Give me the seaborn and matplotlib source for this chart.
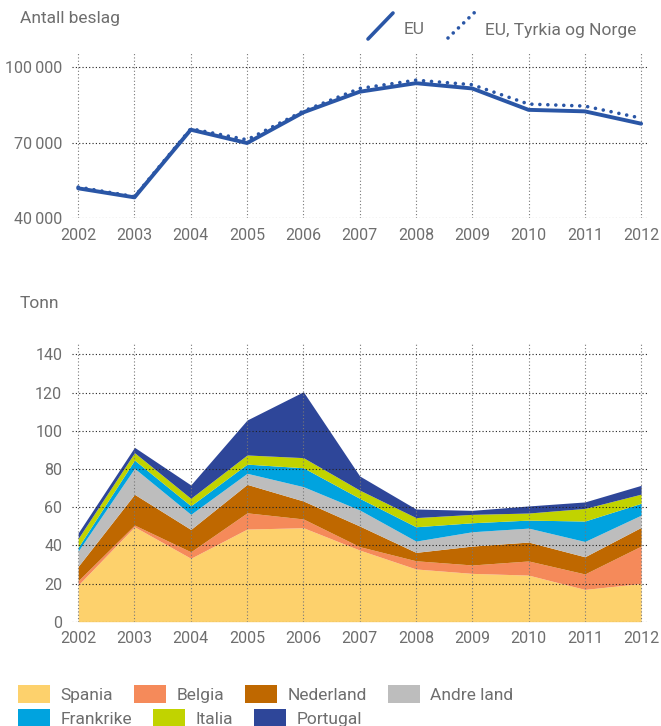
import numpy as np
import pandas as pd
import matplotlib
matplotlib.use("Agg")
import matplotlib.pyplot as plt
import seaborn as sns
from matplotlib.lines import Line2D
from matplotlib.patches import Patch
from matplotlib.ticker import FuncFormatter

# --- data ---
years = [2002, 2003, 2004, 2005, 2006, 2007, 2008, 2009, 2010, 2011, 2012]

# antall beslag
eu = [51800, 48200, 75100, 69800, 82000, 90200, 93600, 91500, 83000, 82400, 77500]
eu_tr_no = [52300, 48500, 75500, 71100, 82500, 91500, 94800, 93000, 85300, 84500, 79700]

# tonn per land (stacked)
countries = ["Spania", "Belgia", "Nederland", "Andre land", "Frankrike", "Italia", "Portugal"]
spania = [19.2, 49.7, 33.2, 48.5, 49.2, 37.5, 27.6, 25.3, 24.4, 16.9, 20.0]
belgia = [2.3, 0.9, 3.4, 8.5, 4.6, 1.8, 4.3, 4.4, 7.4, 8.1, 19.6]
nederland = [7.5, 16.1, 11.7, 14.9, 9.4, 10.8, 4.4, 9.9, 9.9, 9.0, 9.8]
andre_land = [8.0, 13.6, 7.9, 5.8, 7.5, 8.4, 5.9, 7.5, 7.3, 8.0, 6.4]
frankrike = [2.0, 4.3, 4.5, 4.8, 9.9, 6.1, 7.5, 4.7, 4.2, 10.7, 6.2]
italia = [4.6, 3.9, 3.9, 4.8, 5.3, 4.3, 4.8, 4.4, 3.7, 6.6, 4.8]
portugal = [2.9, 2.8, 7.0, 18.3, 34.5, 7.4, 4.5, 2.1, 3.7, 3.4, 4.6]

colors = ["#FDD16C", "#F58A5A", "#BF6800", "#BDBDBD", "#00A3DF", "#C1D300", "#2E4699"]
line_color = "#2A56A6"
text_color = "#6E6E6E"

sns.set_theme(style="white")
plt.rcParams["font.family"] = ["Roboto", "DejaVu Sans"]
plt.rcParams["text.color"] = text_color
plt.rcParams["xtick.color"] = text_color
plt.rcParams["ytick.color"] = text_color

fig = plt.figure(figsize=(6.61, 7.26), dpi=100)
W, H = 661, 726

def style_axes(ax):
    for s in ax.spines.values():
        s.set_visible(False)
    ax.set_xlim(2001.89, 2012.14)
    ax.set_xticks(years)
    ax.tick_params(axis="both", length=0, labelsize=11.5, pad=7)
    ax.grid(axis="y", color="#222222", linestyle=(0, (1, 2)), linewidth=0.8)
    ax.grid(axis="x", color="#777777", linestyle=(0, (1, 2)), linewidth=0.8)
    ax.set_axisbelow(False)
    ax.set_xlabel("")
    ax.set_ylabel("")

# ---------- top: antall beslag ----------
ax1 = fig.add_axes([72 / W, 1 - 218 / H, 577 / W, 165 / H])
df_top = pd.DataFrame({"year": years, "EU": eu, "EU, Tyrkia og Norge": eu_tr_no})
sns.lineplot(data=df_top, x="year", y="EU", ax=ax1, color=line_color, linewidth=2.8,
             solid_capstyle="round", zorder=3)
sns.lineplot(data=df_top, x="year", y="EU, Tyrkia og Norge", ax=ax1, color=line_color,
             linewidth=2.6, linestyle=(0, (0.01, 2.2)), dash_capstyle="round", zorder=4)
style_axes(ax1)
ax1.set_ylim(40000, 105600)
ax1.set_yticks([40000, 70000, 100000])
ax1.yaxis.set_major_formatter(FuncFormatter(lambda v, p: f"{int(v):,}".replace(",", "\u2009")))

fig.text(20 / W, 1 - 19 / H, "Antall beslag", fontsize=12.5, va="center", ha="left")

# header legend with diagonal line symbols
fig.add_artist(Line2D([368 / W, 393 / W], [1 - 39 / H, 1 - 13 / H], color=line_color,
                      linewidth=2.6, solid_capstyle="round"))
fig.add_artist(Line2D([448 / W, 475 / W], [1 - 38 / H, 1 - 12 / H], color=line_color,
                      linewidth=2.6, linestyle=(0, (0.01, 2.0)), dash_capstyle="round"))
fig.text(404 / W, 1 - 30 / H, "EU", fontsize=12.5, va="center", ha="left")
fig.text(485 / W, 1 - 30 / H, "EU, Tyrkia og Norge", fontsize=12.5, va="center", ha="left")

# ---------- bottom: tonn ----------
ax2 = fig.add_axes([72 / W, 1 - 621.7 / H, 577 / W, 280 / H])
series = [spania, belgia, nederland, andre_land, frankrike, italia, portugal]
ax2.stackplot(years, *series, colors=colors, labels=countries, linewidth=0, zorder=1)
style_axes(ax2)
ax2.set_ylim(0, 146.6)
ax2.set_yticks(range(0, 141, 20))

fig.text(20 / W, 1 - 303 / H, "Tonn", fontsize=12.5, va="center", ha="left")

# legend in two flowing rows
handles = [Patch(facecolor=c, edgecolor="none") for c in colors]
common = dict(frameon=False, fontsize=12.5, handlelength=1.85, handleheight=1.2,
              handletextpad=0.6, columnspacing=1.2, borderpad=0, borderaxespad=0,
              loc="center left")
leg1 = fig.legend(handles[:4], countries[:4], ncol=4, bbox_to_anchor=(18 / W, 1 - 694 / H), **common)
fig.legend(handles[4:], countries[4:], ncol=3, bbox_to_anchor=(18 / W, 1 - 718 / H), **common)

fig.savefig("out.png", dpi=100, facecolor="white")
